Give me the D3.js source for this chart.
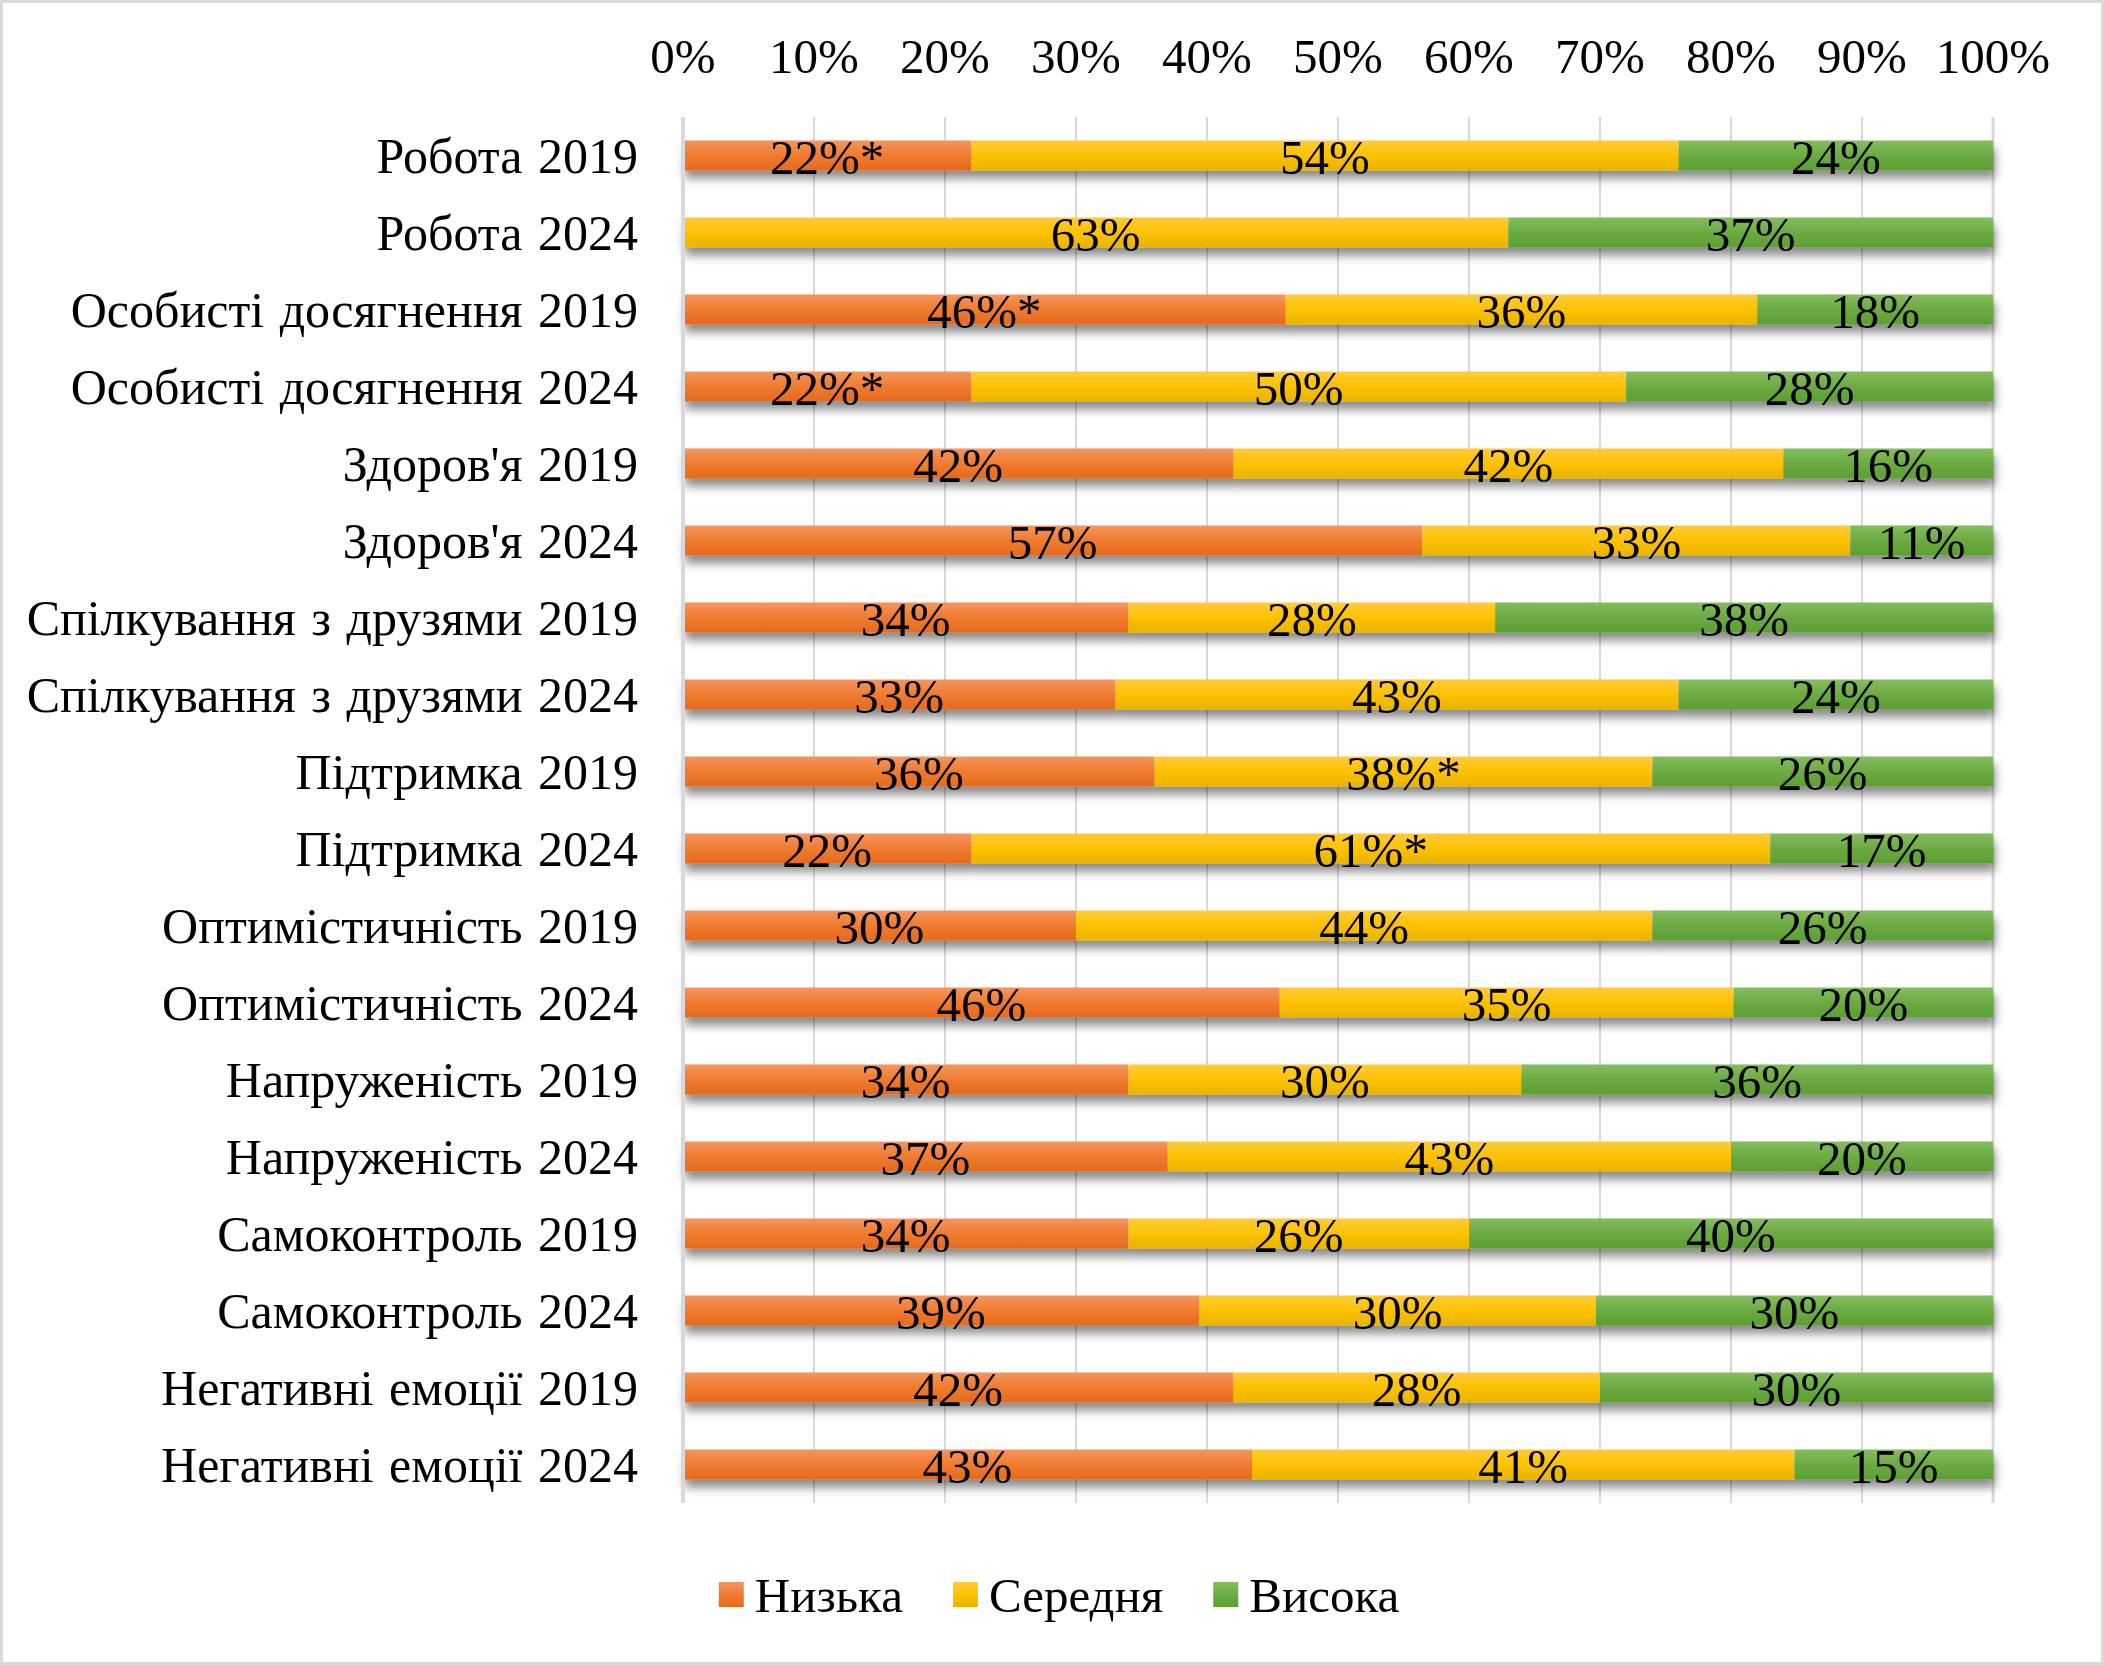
<!DOCTYPE html>
<html>
<head>
<meta charset="utf-8">
<script src="https://cdn.jsdelivr.net/npm/d3@7"></script>
<style>
  html, body { margin: 0; padding: 0; background: #fff; }
  text { font-family: "Liberation Serif", "Times New Roman", serif; fill: #000; }
</style>
</head>
<body>
<svg id="chart" width="2104" height="1665"></svg>
<script>
// Categories, top to bottom
const categories = [
  "Робота 2019", "Робота 2024",
  "Особисті досягнення 2019", "Особисті досягнення 2024",
  "Здоров'я 2019", "Здоров'я 2024",
  "Спілкування з друзями 2019", "Спілкування з друзями 2024",
  "Підтримка 2019", "Підтримка 2024",
  "Оптимістичність 2019", "Оптимістичність 2024",
  "Напруженість 2019", "Напруженість 2024",
  "Самоконтроль 2019", "Самоконтроль 2024",
  "Негативні емоції 2019", "Негативні емоції 2024"
];

// series values, percent
const low  = [22, 0, 46, 22, 42, 57, 34, 33, 36, 22, 30, 46, 34, 37, 34, 39, 42, 43];
const mid  = [54, 63, 36, 50, 42, 33, 28, 43, 38, 61, 44, 35, 30, 43, 26, 30, 28, 41];
const high = [24, 37, 18, 28, 16, 11, 38, 24, 26, 17, 26, 20, 36, 20, 40, 30, 30, 15];

// significance marks shown after the label
const lowMarks  = ["*", "", "*", "*", "", "", "", "", "", "", "", "", "", "", "", "", "", ""];
const midMarks  = ["", "", "", "", "", "", "", "", "*", "*", "", "", "", "", "", "", "", ""];
const highMarks = categories.map(() => "");

const seriesNames = ["Низька", "Середня", "Висока"];
const tickValues = [0, 0.1, 0.2, 0.3, 0.4, 0.5, 0.6, 0.7, 0.8, 0.9, 1];

const keys = ["low", "mid", "high"];
const gradStops = {
  low:  ["#f5965e", "#f07b30", "#e56a1e"],
  mid:  ["#ffcb3c", "#fdc200", "#e9b400"],
  high: ["#84bd5e", "#6cab42", "#5c9f32"]
};

const rows = categories.map((c, i) => ({
  cat: c, low: low[i], mid: mid[i], high: high[i],
  marks: { low: lowMarks[i], mid: midMarks[i], high: highMarks[i] }
}));

const svg = d3.select("#chart");
const fontSize = 49;

// frame
svg.append("rect")
  .attr("x", 1.5).attr("y", 1.5)
  .attr("width", 2101).attr("height", 1662)
  .attr("fill", "#fff")
  .attr("stroke", "#d9d9d9").attr("stroke-width", 3);

const defs = svg.append("defs");
keys.forEach(k => {
  const g = defs.append("linearGradient")
    .attr("id", "grad-" + k)
    .attr("x1", 0).attr("y1", 0).attr("x2", 0).attr("y2", 1);
  g.append("stop").attr("offset", "0%").attr("stop-color", gradStops[k][0]);
  g.append("stop").attr("offset", "50%").attr("stop-color", gradStops[k][1]);
  g.append("stop").attr("offset", "100%").attr("stop-color", gradStops[k][2]);
});
const shadow = defs.append("filter")
  .attr("id", "shadow")
  .attr("x", "-5%").attr("y", "-50%").attr("width", "110%").attr("height", "250%");
shadow.append("feDropShadow")
  .attr("dx", 2).attr("dy", 8)
  .attr("stdDeviation", 5)
  .attr("flood-color", "#000")
  .attr("flood-opacity", 0.45);

const x = d3.scaleLinear().domain([0, 1]).range([683, 1993]);
const y = d3.scaleBand()
  .domain(categories)
  .range([117, 1503])
  .paddingInner(0.61)
  .paddingOuter(0.305);

// gridlines
svg.append("g").selectAll("line")
  .data(tickValues)
  .join("line")
    .attr("x1", d => x(d)).attr("x2", d => x(d))
    .attr("y1", 117).attr("y2", 1503)
    .attr("stroke", "#d9d9d9")
    .attr("stroke-width", d => d === 0 ? 4 : (d === 1 ? 3 : 2));

// top axis labels
svg.append("g").selectAll("text")
  .data(tickValues)
  .join("text")
    .attr("x", d => x(d))
    .attr("y", 73)
    .attr("text-anchor", "middle")
    .attr("font-size", fontSize)
    .text(d3.format(".0%"));

// category labels
svg.append("g").selectAll("text")
  .data(categories)
  .join("text")
    .attr("x", 638)
    .attr("y", d => y(d) + y.bandwidth() / 2 + 17)
    .attr("text-anchor", "end")
    .attr("font-size", 50)
    .attr("word-spacing", 3)
    .text(d => d);

// stacked, normalised to 100%
const stacked = d3.stack()
  .keys(keys)
  .offset(d3.stackOffsetExpand)(rows);

const bars = svg.append("g").attr("filter", "url(#shadow)");
stacked.forEach(layer => {
  bars.append("g")
    .attr("fill", "url(#grad-" + layer.key + ")")
    .selectAll("rect")
    .data(layer.filter(d => d[1] > d[0]))
    .join("rect")
      .attr("x", d => x(d[0]))
      .attr("y", d => y(d.data.cat))
      .attr("width", d => x(d[1]) - x(d[0]))
      .attr("height", y.bandwidth());
});

// repaint 0% axis line over the bar starts
svg.append("line")
  .attr("x1", x(0)).attr("x2", x(0))
  .attr("y1", 117).attr("y2", 1503)
  .attr("stroke", "#d9d9d9").attr("stroke-width", 4);

// data labels
const labels = svg.append("g");
stacked.forEach(layer => {
  labels.append("g").selectAll("text")
    .data(layer.filter(d => d.data[layer.key] > 0))
    .join("text")
      .attr("x", d => (x(d[0]) + x(d[1])) / 2)
      .attr("y", d => y(d.data.cat) + y.bandwidth() / 2 + 18)
      .attr("text-anchor", "middle")
      .attr("font-size", fontSize)
      .text(d => d.data[layer.key] + "%" + d.data.marks[layer.key]);
});

// legend, centred under the plot
const legend = svg.append("g");
const items = legend.selectAll("g")
  .data(keys.map((k, i) => ({ key: k, name: seriesNames[i] })))
  .join("g");
items.append("rect")
  .attr("y", 1582)
  .attr("width", 25).attr("height", 25)
  .attr("fill", d => "url(#grad-" + d.key + ")");
items.append("text")
  .attr("x", 36)
  .attr("y", 1612)
  .attr("font-size", fontSize)
  .text(d => d.name);

let offset = 0;
const widths = [];
items.each(function () {
  const w = d3.select(this).select("text").node().getComputedTextLength() + 36;
  widths.push(w);
});
const gap = 50;
const total = d3.sum(widths) + gap * (widths.length - 1);
const start = 1059 - total / 2;
items.attr("transform", (d, i) => {
  const tx = start + offset;
  offset += widths[i] + gap;
  return "translate(" + tx + ",0)";
});
</script>
</body>
</html>
